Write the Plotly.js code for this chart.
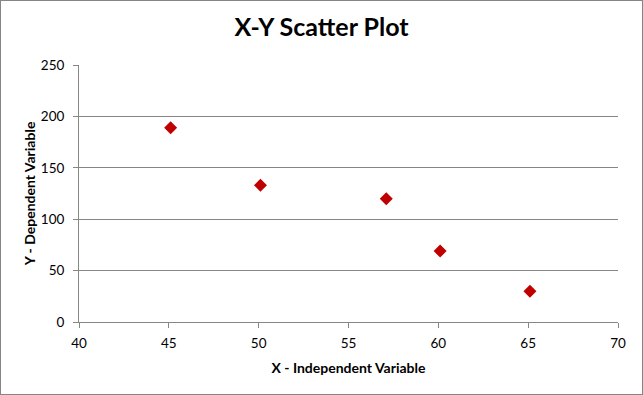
<!DOCTYPE html>
<html>
<head>
<meta charset="utf-8">
<script src="https://cdn.plot.ly/plotly-3.0.1.min.js"></script>
<style>
html,body{margin:0;padding:0;background:#fff;}
#wrap{position:relative;width:643px;height:395px;}
#chart{width:643px;height:395px;}
#frame{position:absolute;left:0;top:0;width:643px;height:395px;box-sizing:border-box;border:1px solid #868686;pointer-events:none;}
</style>
</head>
<body>
<div id="wrap"><div id="chart"></div><div id="frame"></div></div>
<script>
const xValues = [45.1, 50.1, 57.1, 60.1, 65.1];
const yValues = [189, 133, 120, 69, 30];
const xTicks = [40, 45, 50, 55, 60, 65, 70];
const yTicks = [0, 50, 100, 150, 200, 250];

const font = "Lato, 'Open Sans', sans-serif";
const gray = '#868686';

Plotly.newPlot('chart', [{
  type: 'scatter',
  mode: 'markers',
  x: xValues,
  y: yValues,
  marker: {symbol: 'diamond', size: 10, color: '#C00000'},
  hoverinfo: 'x+y'
}], {
  width: 643, height: 395,
  margin: {l: 79, r: 25, t: 65, b: 73},
  paper_bgcolor: '#fff', plot_bgcolor: '#fff',
  showlegend: false,
  font: {family: font, size: 13, color: '#000'},
  title: {text: '<b>X-Y Scatter Plot</b>', font: {family: font, size: 25, color: '#000'}, x: 0.5, xanchor: 'center', y: 0.93, yanchor: 'middle'},
  xaxis: {
    range: [40, 70], tickvals: xTicks, ticktext: xTicks.map(String),
    showgrid: false, zeroline: false,
    showline: true, linecolor: gray, linewidth: 1,
    ticks: 'outside', ticklen: 5, tickcolor: gray, tickwidth: 1,
    ticklabelstandoff: 4,
    tickfont: {family: font, size: 13.5, color: '#000'},
    title: {text: '<b>X - Independent Variable</b>', font: {family: font, size: 14, color: '#000'}, standoff: 12}
  },
  yaxis: {
    range: [0, 250], tickvals: yTicks, ticktext: yTicks.map(String),
    showgrid: true, gridcolor: gray, gridwidth: 1, zeroline: false,
    showline: true, linecolor: gray, linewidth: 1,
    ticks: 'outside', ticklen: 5, tickcolor: gray, tickwidth: 1,
    ticklabelstandoff: 6,
    tickfont: {family: font, size: 13.5, color: '#000'},
    title: {text: '<b>Y - Dependent Variable</b>', font: {family: font, size: 14, color: '#000'}, standoff: 1}
  }
}, {displayModeBar: false, staticPlot: true});
</script>
</body>
</html>
